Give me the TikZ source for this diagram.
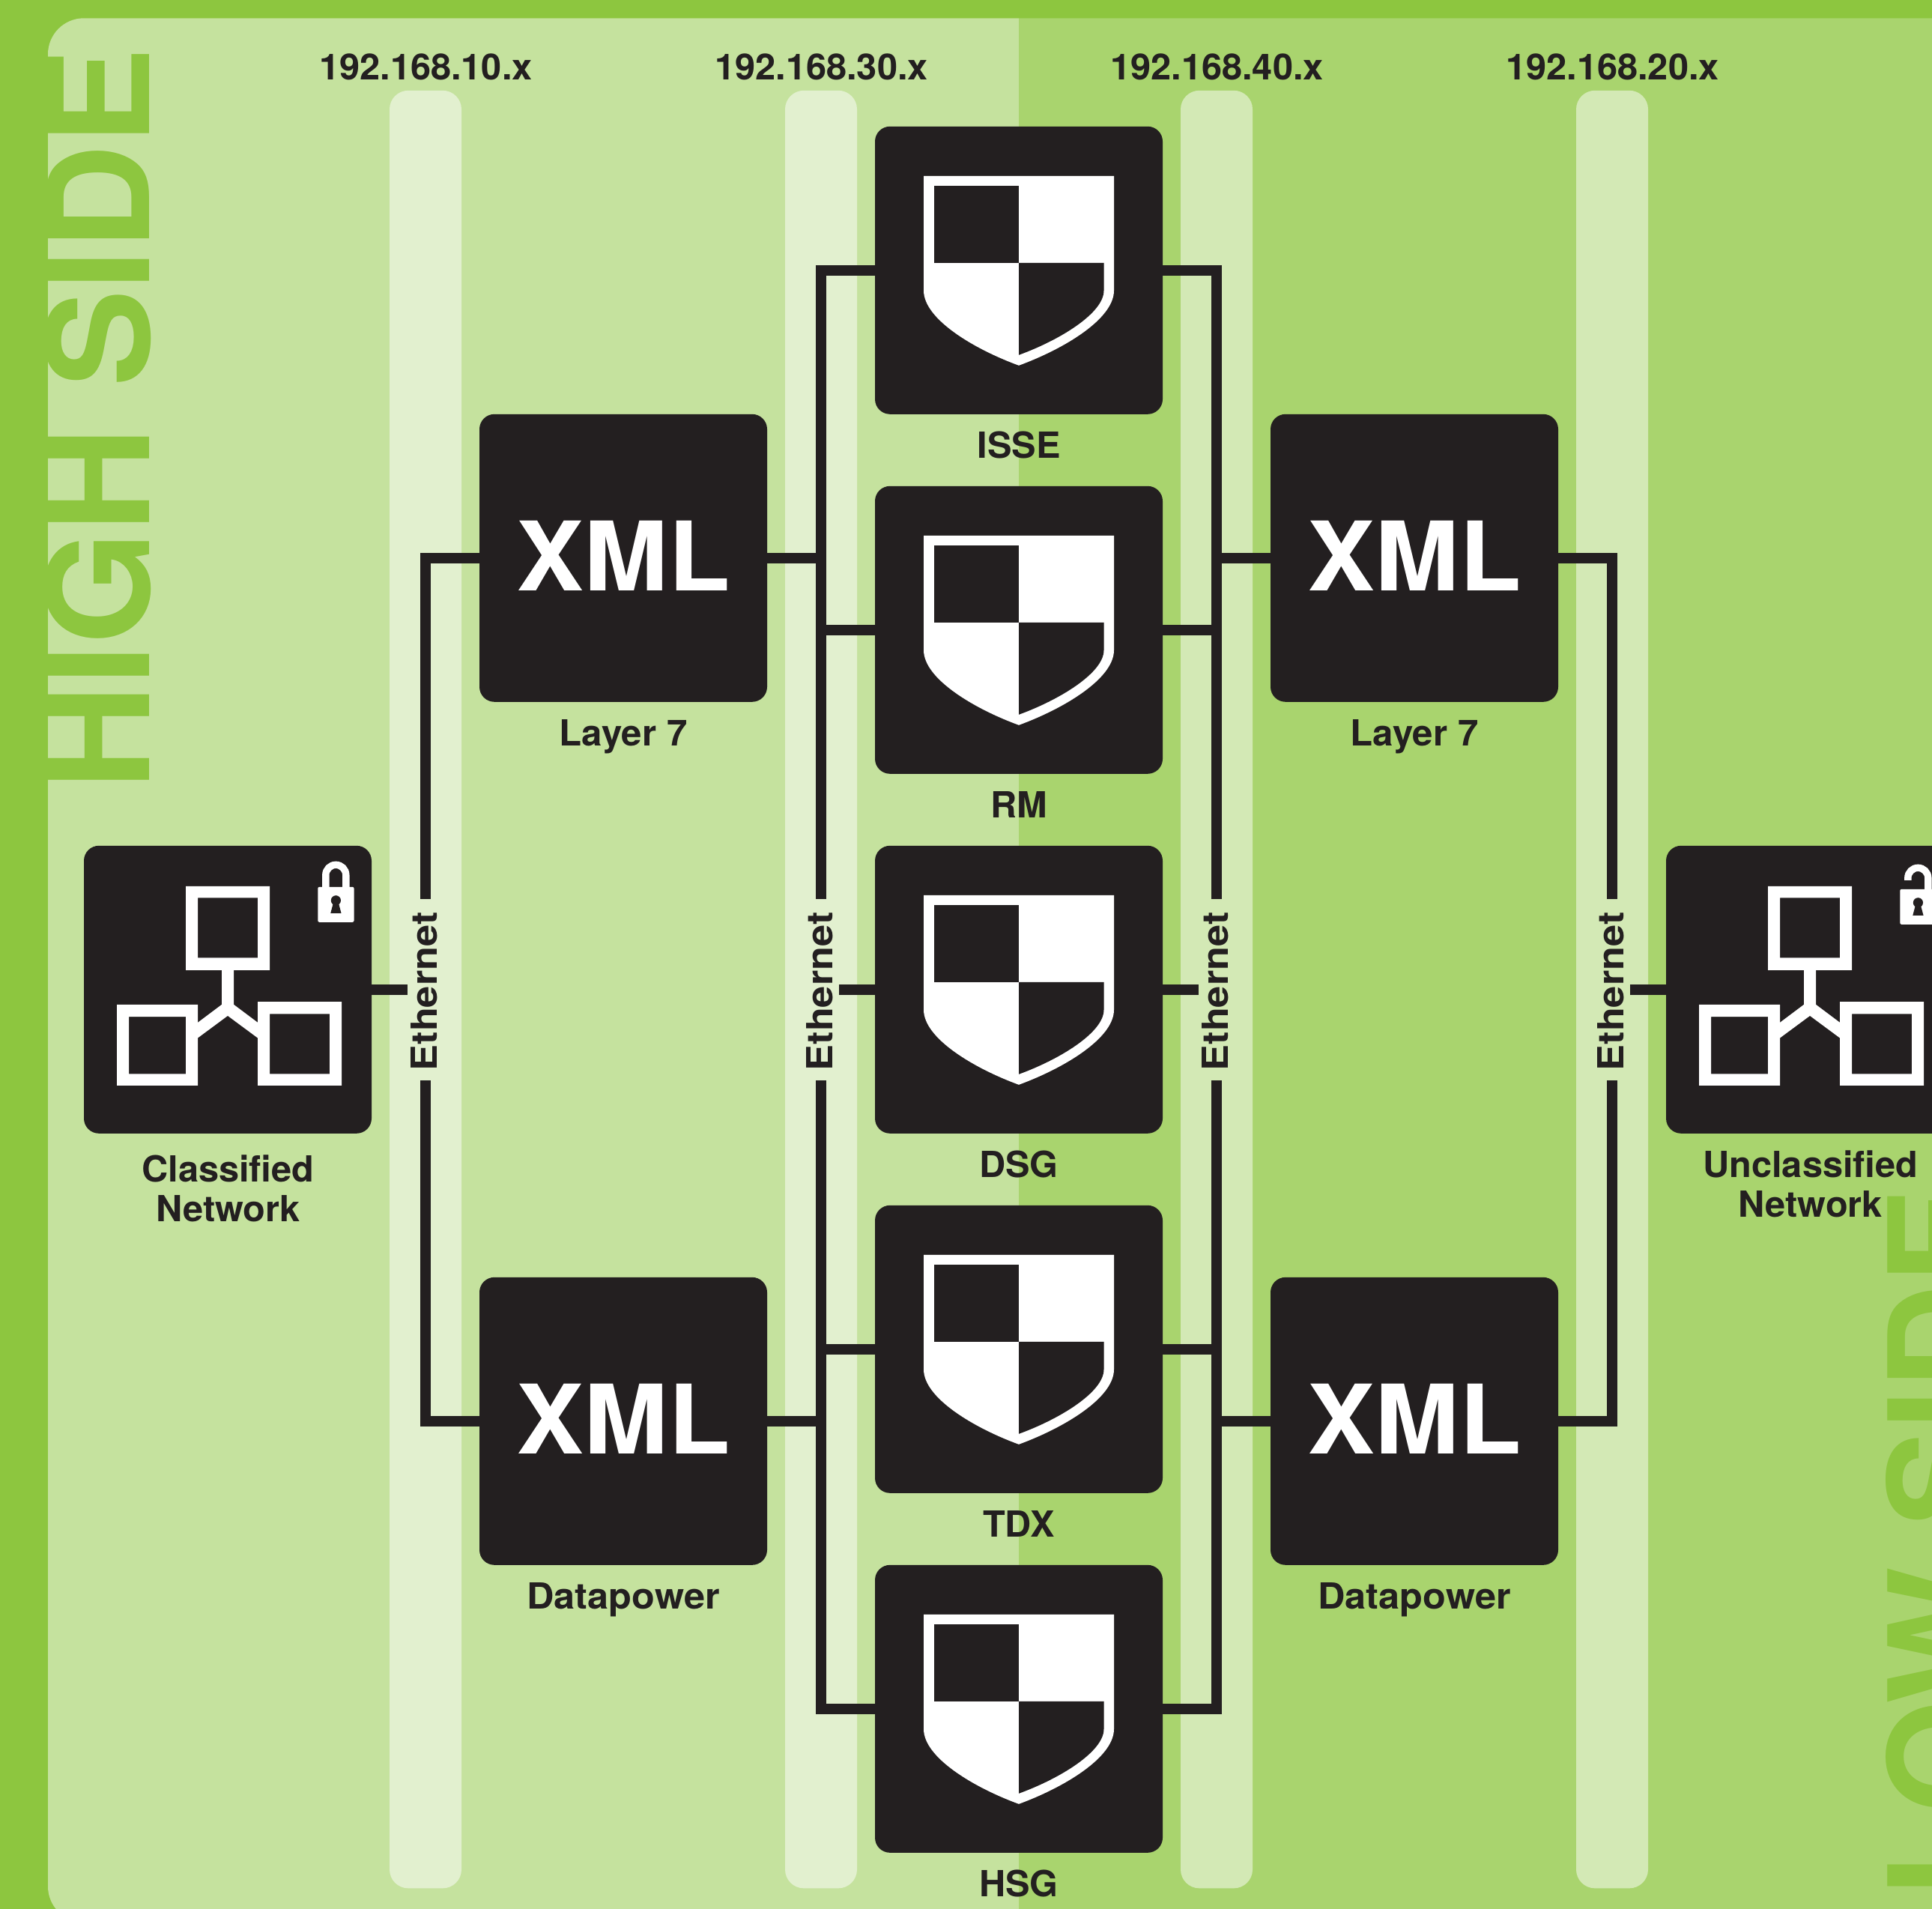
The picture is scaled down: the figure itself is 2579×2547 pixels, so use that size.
\documentclass[tikz,border=0pt]{standalone}
\usepackage{fontspec}
\setmainfont{TeX Gyre Heros}[FakeStretch=1.015]
\definecolor{ink}{HTML}{231F20}
\definecolor{leaf}{HTML}{8DC63F}
\definecolor{panelL}{HTML}{C5E29E}
\definecolor{panelR}{HTML}{A9D46E}
\definecolor{stripL}{HTML}{E2F0CF}
\definecolor{stripR}{HTML}{D3E9B5}
\tikzset{
  box/.style={fill=ink,rounded corners=20pt,minimum size=384pt,inner sep=0pt,outer sep=0pt,text=white},
  xmlbox/.style={box,font=\fontsize{128}{128}\bfseries\selectfont,text height=87.4pt,text depth=0pt},
  wire/.style={draw=ink,line width=13.4pt,line cap=butt,line join=miter},
  lab/.style={text=ink,inner sep=0pt,anchor=base,font=\fontsize{48}{53}\bfseries\selectfont},
  ethlab/.style={text=ink,inner sep=0pt,rotate=90,minimum width=241pt,minimum height=48pt,
    text height=34pt,text depth=3pt,font=\fontsize{48}{53}\bfseries\selectfont},
  sidelab/.style={text=leaf,inner sep=0pt,rotate=90,anchor=base west,font=\fontsize{189}{189}\bfseries\selectfont},
  pics/shieldicon/.style={code={
    \fill[white] (-127,-126) -- (127,-126) -- (127,27) .. controls (127,65) and (60,105) .. (0,127)
       .. controls (-60,105) and (-127,65) .. (-127,27) -- cycle;
    \fill[ink] (-113.5,-113) rectangle (0,-10);
    \fill[ink] (0,-10) -- (113.5,-10) -- (113.5,27) .. controls (113.5,57) and (55,93) .. (0,113) -- cycle;
  }},
  pics/neticon/.style={code={
    \fill[white,even odd rule] (-56,-138) rectangle (56,-26) (-40,-122.5) rectangle (40,-42.5);
    \fill[white,even odd rule] (-148,20) rectangle (-40,128) (-132,36.4) rectangle (-56,112.5);
    \fill[white,even odd rule] (40,16.4) rectangle (152,128) (56,32.5) rectangle (136,112.5);
    \fill[white] (-8,-26) -- (-8,20) -- (-40,44) -- (-40,64.6) -- (0,35) -- (40,64.6) -- (40,44) -- (8,20) -- (8,-26) -- cycle;
  }},
  pics/lockbody/.style={code={
    \fill[white,rounded corners=2pt] (120.3,-137) rectangle (168.5,-90);
    \fill[ink] (144.4,-119) circle[radius=6.6];
    \fill[ink] (141,-116) -- (147.8,-116) -- (151.5,-102) -- (137.3,-102) -- cycle;
  }},
  pics/lockclosed/.style={code={
    \draw[white,line width=9.4pt] (130.8,-137) -- (130.8,-153) .. controls (130.8,-160.4) and (136.9,-166.5) .. (144.3,-166.5)
       .. controls (151.7,-166.5) and (157.8,-160.4) .. (157.8,-153) -- (157.8,-137);
    \pic at (0,0) {lockbody};
  }},
  pics/lockopen/.style={code={
    \draw[white,line width=9.4pt] (130.8,-146) -- (130.8,-149) .. controls (130.8,-156.4) and (136.9,-162.5) .. (144.3,-162.5)
       .. controls (151.7,-162.5) and (157.8,-156.4) .. (157.8,-149) -- (157.8,-134);
    \pic at (0,3) {lockbody};
  }},
}
\begin{document}
\begin{tikzpicture}[x=1pt,y=-1pt]
\useasboundingbox (0,-0.8) rectangle (2579,2546.2);
\clip (0,-0.8) rectangle (2579,2546.2);
% background
\fill[leaf] (0,-2) rectangle (2579,2547);
\begin{scope}
  \clip[rounded corners=48pt] (64,23.5) rectangle (2800,2565);
  \fill[panelL] (0,0) rectangle (1360,2600);
  \fill[panelR] (1360,0) rectangle (2800,2600);
\end{scope}
% vlan strips
\fill[stripL,rounded corners=25pt] (520,120) rectangle (616,2519.5);
\fill[stripL,rounded corners=25pt] (1048,120) rectangle (1144,2519.5);
\fill[stripR,rounded corners=25pt] (1576,120) rectangle (1672,2519.5);
\fill[stripR,rounded corners=25pt] (2104,120) rectangle (2200,2519.5);
% side titles
\node[sidelab] (high) at (199.3,1054) {\scalebox{1.01}[1]{HIGH SIDE}};
\node[sidelab] (low) at (2657,2533) {\scalebox{1.01}[1]{LOW SIDE}};
% subnet labels
\node[lab] (ip1) at (568.5,106) {192.168.10.x};
\node[lab] (ip2) at (1096.5,106) {192.168.30.x};
\node[lab] (ip3) at (1624.5,106) {192.168.40.x};
\node[lab] (ip4) at (2152.5,106) {192.168.20.x};
% boxes
\node[box] (classified) at (304,1320) {};
\node[box] (unclassified) at (2416,1320) {};
\node[xmlbox] (l7L) at (832,744) {\scalebox{1.04}[1]{XML}};
\node[xmlbox] (dpL) at (832,1896) {\scalebox{1.04}[1]{XML}};
\node[xmlbox] (l7R) at (1888,744) {\scalebox{1.04}[1]{XML}};
\node[xmlbox] (dpR) at (1888,1896) {\scalebox{1.04}[1]{XML}};
\node[box] (isse) at (1360,360) {};
\node[box] (rm) at (1360,840) {};
\node[box] (dsg) at (1360,1320) {};
\node[box] (tdx) at (1360,1800) {};
\node[box] (hsg) at (1360,2280) {};
% ethernet labels
\node[ethlab] (eth1) at (568,1320) {\kern-5pt\scalebox{1.074}[1]{Ethernet}};
\node[ethlab] (eth2) at (1096,1320) {\kern-5pt\scalebox{1.074}[1]{Ethernet}};
\node[ethlab] (eth3) at (1624,1320) {\kern-5pt\scalebox{1.074}[1]{Ethernet}};
\node[ethlab] (eth4) at (2152,1320) {\kern-5pt\scalebox{1.074}[1]{Ethernet}};
% connectors
\draw[wire] (classified.east) -- (eth1.north);
\draw[wire] (l7L.west) -| (eth1.east);
\draw[wire] (dpL.west) -| (eth1.west);
\draw[wire] (isse.west) -| (eth2.east);
\draw[wire] (hsg.west) -| (eth2.west);
\draw[wire] (l7L.east) -- (l7L.east -| eth2.center);
\draw[wire] (dpL.east) -- (dpL.east -| eth2.center);
\draw[wire] (rm.west) -- (rm.west -| eth2.center);
\draw[wire] (tdx.west) -- (tdx.west -| eth2.center);
\draw[wire] (dsg.west) -- (eth2.south);
\draw[wire] (isse.east) -| (eth3.east);
\draw[wire] (hsg.east) -| (eth3.west);
\draw[wire] (l7R.west) -- (l7R.west -| eth3.center);
\draw[wire] (dpR.west) -- (dpR.west -| eth3.center);
\draw[wire] (rm.east) -- (rm.east -| eth3.center);
\draw[wire] (tdx.east) -- (tdx.east -| eth3.center);
\draw[wire] (dsg.east) -- (eth3.north);
\draw[wire] (l7R.east) -| (eth4.east);
\draw[wire] (dpR.east) -| (eth4.west);
\draw[wire] (unclassified.west) -- (eth4.south);
% icons
\pic at (isse) {shieldicon};
\pic at (rm) {shieldicon};
\pic at (dsg) {shieldicon};
\pic at (tdx) {shieldicon};
\pic at (hsg) {shieldicon};
\pic at (classified) {neticon};
\pic at (classified) {lockclosed};
\pic at (unclassified) {neticon};
\pic at (unclassified) {lockopen};
% labels
\node[lab] (t1) at (1360,611) {ISSE};
\node[lab] (t2) at (1360,1091) {RM};
\node[lab] (t3) at (1360,1571) {DSG};
\node[lab] (t4) at (1360,2051) {TDX};
\node[lab] (t5) at (1360,2531) {HSG};
\node[lab] (t6) at (832,995) {\scalebox{1.01}[1]{Layer 7}};
\node[lab] (t7) at (1888,995) {\scalebox{1.01}[1]{Layer 7}};
\node[lab] (t8) at (832,2147) {\scalebox{1.035}[1]{Datapower}};
\node[lab] (t9) at (1888,2147) {\scalebox{1.035}[1]{Datapower}};
\node[lab,anchor=center,align=center] (t10) at (304.5,1585.5) {Classified\\Network};
\node[lab,anchor=center,align=center] (t11) at (2416.7,1579.5) {Unclassified\\Network};
\end{tikzpicture}
\end{document}
